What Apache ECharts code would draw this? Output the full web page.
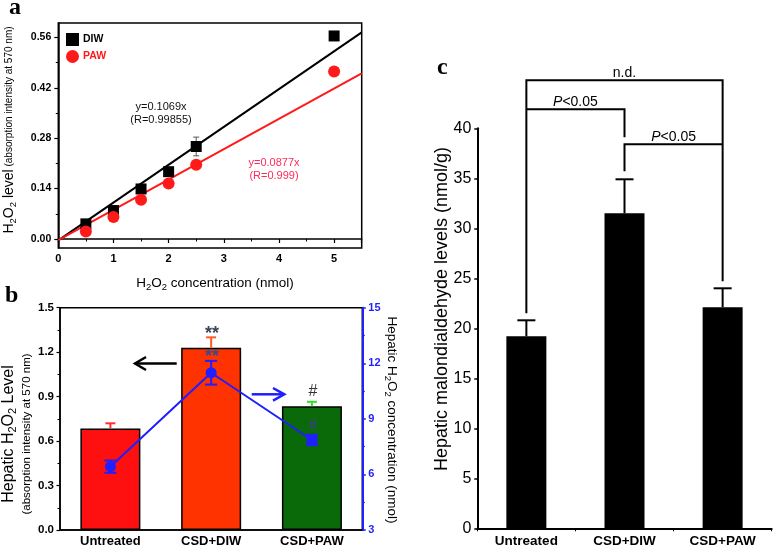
<!DOCTYPE html>
<html><head><meta charset="utf-8">
<script src="https://cdn.jsdelivr.net/npm/echarts@6/dist/echarts.min.js"></script>
<style>html,body{margin:0;padding:0;background:#fff}#c{width:776px;height:552px}</style>
</head><body><div id="c"></div><script>
// ---------- Panel a data ----------
const concA = [0.5, 1, 1.5, 2, 2.5, 5];
const diwA = [0.042, 0.079, 0.139, 0.187, 0.257, 0.564];
const diwErrA = [0.008, 0.008, 0.008, 0.006, 0.026, 0.004];
const pawA = [0.021, 0.061, 0.109, 0.154, 0.206, 0.465];
const pawErrA = [0.005, 0.005, 0.005, 0.005, 0.005, 0.004];
const fitDIW = [[0, -0.004], [5.5, 0.574]];
const fitPAW = [[0, -0.003], [5.5, 0.460]];
const yTicksA = [0, 0.14, 0.28, 0.42, 0.56];
const yMinorA = [0.07, 0.21, 0.35, 0.49];
// ---------- Panel b data ----------
const catsB = ['Untreated', 'CSD+DIW', 'CSD+PAW'];
const absB = [0.685, 1.23, 0.835];
const absErrB = [0.035, 0.07, 0.03];
const concB = [6.42, 11.49, 7.86];
const concErrB = [0.33, 0.64, 0.28];
// ---------- Panel c data ----------
const catsC = ['Untreated', 'CSD+DIW', 'CSD+PAW'];
const mdaC = [19.2, 31.5, 22.1];
const mdaErrC = [1.6, 3.4, 1.9];
// brackets: [fromCat, toCat, yTop, yLeftEnd, yRightEnd]
const bracketsC = [[0, 2, 44.8, 21.5, 24.7], [0, 1, 41.9, 41.9, 39.1], [1, 2, 38.4, 35.7, 38.4]];
const bracketLabels = ['n.d.', '{i|P}<0.05', '{i|P}<0.05'];

const SANS = "'Liberation Sans', Arial, Helvetica, sans-serif";
const SERIF = "'Liberation Serif', 'Times New Roman', serif";
const BLUE = '#1f1fff';

function errRender(colorFn, capW, lw, both) {
  return function (params, api) {
    const x = api.value(0), y = api.value(1), e = api.value(2);
    const top = api.coord([x, y + e]);
    const bot = api.coord([x, both ? y - e : y]);
    const st = { stroke: colorFn(params.dataIndex), lineWidth: lw };
    const ch = [
      { type: 'line', shape: { x1: top[0], y1: top[1], x2: bot[0], y2: bot[1] }, style: st },
      { type: 'line', shape: { x1: top[0] - capW / 2, y1: top[1], x2: top[0] + capW / 2, y2: top[1] }, style: st }
    ];
    if (both) ch.push({ type: 'line', shape: { x1: bot[0] - capW / 2, y1: bot[1], x2: bot[0] + capW / 2, y2: bot[1] }, style: st });
    return { type: 'group', children: ch };
  };
}

function bracketRender(params, api) {
  const i = params.dataIndex;
  const a = api.value(0), b = api.value(1), yt = api.value(2), yl = api.value(3), yr = api.value(4);
  const pL = api.coord([a, yl]), pTL = api.coord([a, yt]), pTR = api.coord([b, yt]), pR = api.coord([b, yr]);
  return {
    type: 'group', children: [
      { type: 'polyline', shape: { points: [pL, pTL, pTR, pR] }, style: { stroke: '#000', lineWidth: 2, fill: null } },
      { type: 'text', x: (pTL[0] + pTR[0]) / 2, y: pTL[1],
        style: { text: bracketLabels[i], textAlign: 'center', textVerticalAlign: 'bottom', fontFamily: SANS, fontSize: 14, fill: '#000',
          rich: { i: { fontStyle: 'italic', fontFamily: SANS, fontSize: 14 } } } }
    ]
  };
}

const subRich = (size, subSize, color) => ({
  m: { fontFamily: SANS, fontSize: size, lineHeight: 18, verticalAlign: 'middle', color: color },
  s: { fontFamily: SANS, fontSize: subSize, lineHeight: 10, verticalAlign: 'bottom', color: color },
  n: { fontFamily: SANS, fontSize: 10, lineHeight: 18, verticalAlign: 'middle', color: color }
});

const chart = echarts.init(document.getElementById('c'), null, { renderer: 'canvas' });
const option = {
  animation: false,
  backgroundColor: '#fff',
  grid: [
    { left: 58.3, top: 23, width: 303.4, height: 225, show: true, borderColor: '#000', borderWidth: 1.5, backgroundColor: 'transparent' },
    { left: 60, top: 307.7, width: 302.3, height: 222.3, show: true, borderColor: '#000', borderWidth: 1.5, backgroundColor: 'transparent' },
    { left: 477.3, top: 128.3, width: 294.4, height: 400 }
  ],
  xAxis: [
    { type: 'value', gridIndex: 0, min: 0, max: 5.5, interval: 1,
      axisLine: { lineStyle: { color: '#000', width: 1.5 } },
      axisTick: { length: 4, lineStyle: { color: '#000', width: 1.2 } },
      minorTick: { show: true, splitNumber: 2, length: 2.5, lineStyle: { color: '#000' } },
      splitLine: { show: false }, minorSplitLine: { show: false },
      axisLabel: { margin: 5, showMaxLabel: false, color: '#000', fontFamily: SANS, fontWeight: 'bold', fontSize: 11 } },
    { type: 'category', gridIndex: 1, data: catsB, boundaryGap: true,
      axisLine: { lineStyle: { color: '#000', width: 1.5 } }, axisTick: { show: false },
      axisLabel: { interval: 0, margin: 5, color: '#000', fontFamily: SANS, fontWeight: 'bold', fontSize: 13 } },
    { type: 'category', gridIndex: 2, data: catsC, boundaryGap: true,
      axisLine: { lineStyle: { color: '#000', width: 2 } },
      axisTick: { show: true, inside: false, length: 3, lineStyle: { color: '#000', width: 1 } },
      axisLabel: { interval: 0, margin: 6, color: '#000', fontFamily: SANS, fontWeight: 'bold', fontSize: 13.5 } }
  ],
  yAxis: [
    { type: 'value', gridIndex: 0, position: 'left', min: -0.025, max: 0.6,
      axisLine: { show: true, lineStyle: { color: '#000', width: 1.5 } },
      axisTick: { show: true, length: 4, customValues: yTicksA, lineStyle: { color: '#000', width: 1.2 } },
      splitLine: { show: false },
      axisLabel: { customValues: yTicksA, margin: 7, color: '#000', fontFamily: SANS, fontWeight: 'bold', fontSize: 10.5,
        formatter: v => v.toFixed(2) } },
    { type: 'value', gridIndex: 0, position: 'left', offset: 0, min: -0.025, max: 0.6,
      axisLine: { show: false }, splitLine: { show: false }, axisLabel: { show: false },
      axisTick: { show: true, length: 2.5, customValues: yMinorA, lineStyle: { color: '#000', width: 1 } } },
    { type: 'value', gridIndex: 1, position: 'left', min: 0, max: 1.5, interval: 0.3,
      axisLine: { show: true, lineStyle: { color: '#000', width: 1.5 } },
      axisTick: { show: true, length: 3.5, lineStyle: { color: '#000', width: 1.2 } },
      minorTick: { show: true, splitNumber: 2, length: 2.5, lineStyle: { color: '#000' } },
      splitLine: { show: false }, minorSplitLine: { show: false },
      axisLabel: { margin: 6, color: '#000', fontFamily: SANS, fontWeight: 'bold', fontSize: 11.5, formatter: v => v.toFixed(1) } },
    { type: 'value', gridIndex: 1, position: 'right', min: 3, max: 15, interval: 3,
      axisLine: { show: true, lineStyle: { color: BLUE, width: 2 } },
      axisTick: { show: true, length: 3.5, lineStyle: { color: BLUE, width: 1.5 } },
      minorTick: { show: true, splitNumber: 2, length: 2.5, lineStyle: { color: BLUE, width: 1.2 } },
      splitLine: { show: false }, minorSplitLine: { show: false },
      axisLabel: { margin: 6, color: BLUE, fontFamily: SANS, fontWeight: 'bold', fontSize: 11 } },
    { type: 'value', gridIndex: 2, position: 'left', min: 0, max: 40, interval: 5,
      axisLine: { show: true, lineStyle: { color: '#000', width: 2 } },
      axisTick: { show: true, length: 3, lineStyle: { color: '#000', width: 1.5 } },
      splitLine: { show: false },
      axisLabel: { margin: 6, color: '#000', fontFamily: SANS, fontSize: 16 } }
  ],
  legend: {
    left: 66, top: 33, padding: 0, orient: 'vertical', itemWidth: 13, itemHeight: 13, itemGap: 4,
    textStyle: { fontFamily: SANS, fontWeight: 'bold', fontSize: 10.5, padding: [0, 0, 0, -1] },
    data: [
      { name: 'DIW', icon: 'rect', itemStyle: { color: '#000', opacity: 1 }, textStyle: { color: '#000' } },
      { name: 'PAW', icon: 'circle', itemStyle: { color: '#ff1a1a', opacity: 1 }, textStyle: { color: '#ff1a1a' } }
    ]
  },
  series: [
    // panel a
    { type: 'line', xAxisIndex: 0, yAxisIndex: 0, data: fitDIW, showSymbol: false, silent: true, z: 2,
      lineStyle: { color: '#000', width: 2 } },
    { type: 'line', xAxisIndex: 0, yAxisIndex: 0, data: fitPAW, showSymbol: false, silent: true, z: 2,
      lineStyle: { color: '#ff1a1a', width: 2 } },
    { type: 'custom', xAxisIndex: 0, yAxisIndex: 0, z: 3, clip: false,
      data: concA.map((x, i) => [x, diwA[i], diwErrA[i]]), renderItem: errRender(() => '#555', 6, 1, true) },
    { type: 'custom', xAxisIndex: 0, yAxisIndex: 0, z: 3, clip: false,
      data: concA.map((x, i) => [x, pawA[i], pawErrA[i]]), renderItem: errRender(() => '#ff4444', 6, 1, true) },
    { name: 'DIW', type: 'scatter', xAxisIndex: 0, yAxisIndex: 0, z: 4, symbol: 'rect', symbolSize: 11,
      itemStyle: { color: '#000', opacity: 1 }, data: concA.map((x, i) => [x, diwA[i]]) },
    { name: 'PAW', type: 'scatter', xAxisIndex: 0, yAxisIndex: 0, z: 5, symbol: 'circle', symbolSize: 12,
      itemStyle: { color: '#ff1a1a', opacity: 1 }, data: concA.map((x, i) => [x, pawA[i]]) },
    // panel b
    { type: 'bar', xAxisIndex: 1, yAxisIndex: 2, barWidth: 60, z: 2,
      data: absB.map((v, i) => ({ value: v, itemStyle: { color: ['#ff1010', '#ff3300', '#0a6a0a'][i], borderColor: '#000', borderWidth: 1.5 } })) },
    { type: 'custom', xAxisIndex: 1, yAxisIndex: 2, z: 3, clip: false,
      data: absB.map((v, i) => [i, v, absErrB[i]]),
      renderItem: errRender(i => ['#ff3030', '#ff5a20', '#33dd33'][i], 10, 2, false) },
    { type: 'line', xAxisIndex: 1, yAxisIndex: 3, z: 5, symbolSize: 11,
      lineStyle: { color: BLUE, width: 2 }, itemStyle: { color: BLUE, opacity: 1 },
      data: concB.map((v, i) => ({ value: v, symbol: i === 2 ? 'roundRect' : 'circle' })) },
    { type: 'custom', xAxisIndex: 1, yAxisIndex: 3, z: 4, clip: false,
      data: concB.map((v, i) => [i, v, concErrB[i]]), renderItem: errRender(() => BLUE, 12, 2, true) },
    // panel c
    { type: 'bar', xAxisIndex: 2, yAxisIndex: 4, barWidth: 40, z: 2,
      itemStyle: { color: '#000' }, data: mdaC },
    { type: 'custom', xAxisIndex: 2, yAxisIndex: 4, z: 3, clip: false,
      data: mdaC.map((v, i) => [i, v, mdaErrC[i]]), renderItem: errRender(() => '#000', 18, 2, false) },
    { type: 'custom', xAxisIndex: 2, yAxisIndex: 4, z: 3, clip: false,
      data: bracketsC, renderItem: bracketRender }
  ],
  graphic: [
    // panel letters
    { type: 'text', z: 100, x: 9, y: 8, style: { text: 'a', fontFamily: SERIF, fontWeight: 'bold', fontSize: 24, textVerticalAlign: 'middle', fill: '#000' } },
    { type: 'text', z: 100, x: 5, y: 296, style: { text: 'b', fontFamily: SERIF, fontWeight: 'bold', fontSize: 24, textVerticalAlign: 'middle', fill: '#000' } },
    { type: 'text', z: 100, x: 437, y: 68, style: { text: 'c', fontFamily: SERIF, fontWeight: 'bold', fontSize: 24, textVerticalAlign: 'middle', fill: '#000' } },
    // panel a axis titles
    { type: 'text', z: 100, x: 9, y: 130, rotation: Math.PI / 2,
      style: { text: '{m|H}{s|2}{m|O}{s|2}{m| level}{n| (absorption intensity at 570 nm)}', textAlign: 'center', textVerticalAlign: 'middle',
        rich: subRich(14, 9.5, '#000') } },
    { type: 'text', z: 100, x: 215, y: 283,
      style: { text: '{m|H}{s|2}{m|O}{s|2}{m| concentration (nmol)}', textAlign: 'center', textVerticalAlign: 'middle',
        rich: subRich(13.5, 9.5, '#000') } },
    // equations
    { type: 'text', z: 100, x: 161, y: 107, style: { text: 'y=0.1069x', textAlign: 'center', textVerticalAlign: 'middle', fontFamily: SANS, fontSize: 11, fill: '#111' } },
    { type: 'text', z: 100, x: 161, y: 119.5, style: { text: '(R=0.99855)', textAlign: 'center', textVerticalAlign: 'middle', fontFamily: SANS, fontSize: 11, fill: '#111' } },
    { type: 'text', z: 100, x: 274, y: 163, style: { text: 'y=0.0877x', textAlign: 'center', textVerticalAlign: 'middle', fontFamily: SANS, fontSize: 11, fill: '#ff2a5a' } },
    { type: 'text', z: 100, x: 274, y: 175.5, style: { text: '(R=0.999)', textAlign: 'center', textVerticalAlign: 'middle', fontFamily: SANS, fontSize: 11, fill: '#ff2a5a' } },
    // panel b axis titles
    { type: 'text', z: 100, x: 18, y: 434, rotation: Math.PI / 2,
      style: { text: '{m|Hepatic H}{s|2}{m|O}{s|2}{m| Level}\n{l2|(absorption intensity at 570 nm)}', textAlign: 'center', textVerticalAlign: 'middle',
        rich: Object.assign(subRich(16, 11, '#000'), { l2: { fontFamily: SANS, fontSize: 11.5, lineHeight: 18, verticalAlign: 'middle', color: '#000' } }) } },
    { type: 'text', z: 100, x: 392, y: 420, rotation: -Math.PI / 2,
      style: { text: '{m|Hepatic H}{s|2}{m|O}{s|2}{m| concentration (nmol)}', textAlign: 'center', textVerticalAlign: 'middle',
        rich: subRich(13.5, 9.5, BLUE) } },
    // panel b annotations
    { type: 'text', z: 100, x: 212, y: 334, style: { text: '**', textAlign: 'center', textVerticalAlign: 'middle', fontFamily: SANS, fontWeight: 'bold', fontSize: 18, fill: '#3a4558' } },
    { type: 'text', z: 100, x: 212, y: 357, style: { text: '**', textAlign: 'center', textVerticalAlign: 'middle', fontFamily: SANS, fontWeight: 'bold', fontSize: 18, fill: '#3d4a8a' } },
    { type: 'text', z: 100, x: 313, y: 392, style: { text: '#', textAlign: 'center', textVerticalAlign: 'middle', fontFamily: SANS, fontSize: 16, fill: '#333' } },
    { type: 'text', z: 100, x: 313, y: 426, style: { text: '#', textAlign: 'center', textVerticalAlign: 'middle', fontFamily: SANS, fontSize: 16, fill: '#3a3f8a' } },
    // arrows
    { type: 'line', z: 100, shape: { x1: 176.7, y1: 363.5, x2: 136, y2: 363.5 }, style: { stroke: '#000', lineWidth: 2.5 } },
    { type: 'polyline', z: 100, shape: { points: [[146, 357], [135, 363.5], [146, 370]] }, style: { stroke: '#000', lineWidth: 2.5, fill: null } },
    { type: 'line', z: 100, shape: { x1: 251.7, y1: 394.3, x2: 283, y2: 394.3 }, style: { stroke: BLUE, lineWidth: 2.5 } },
    { type: 'polyline', z: 100, shape: { points: [[273, 388], [284.3, 394.3], [273, 400.6]] }, style: { stroke: BLUE, lineWidth: 2.5, fill: null } },
    // panel c axis title
    { type: 'text', z: 100, x: 442, y: 309, rotation: Math.PI / 2,
      style: { text: 'Hepatic malondialdehyde levels (nmol/g)', textAlign: 'center', textVerticalAlign: 'middle', fontFamily: SANS, fontSize: 18, fill: '#000' } }
  ]
};
chart.setOption(option);
</script></body></html>
